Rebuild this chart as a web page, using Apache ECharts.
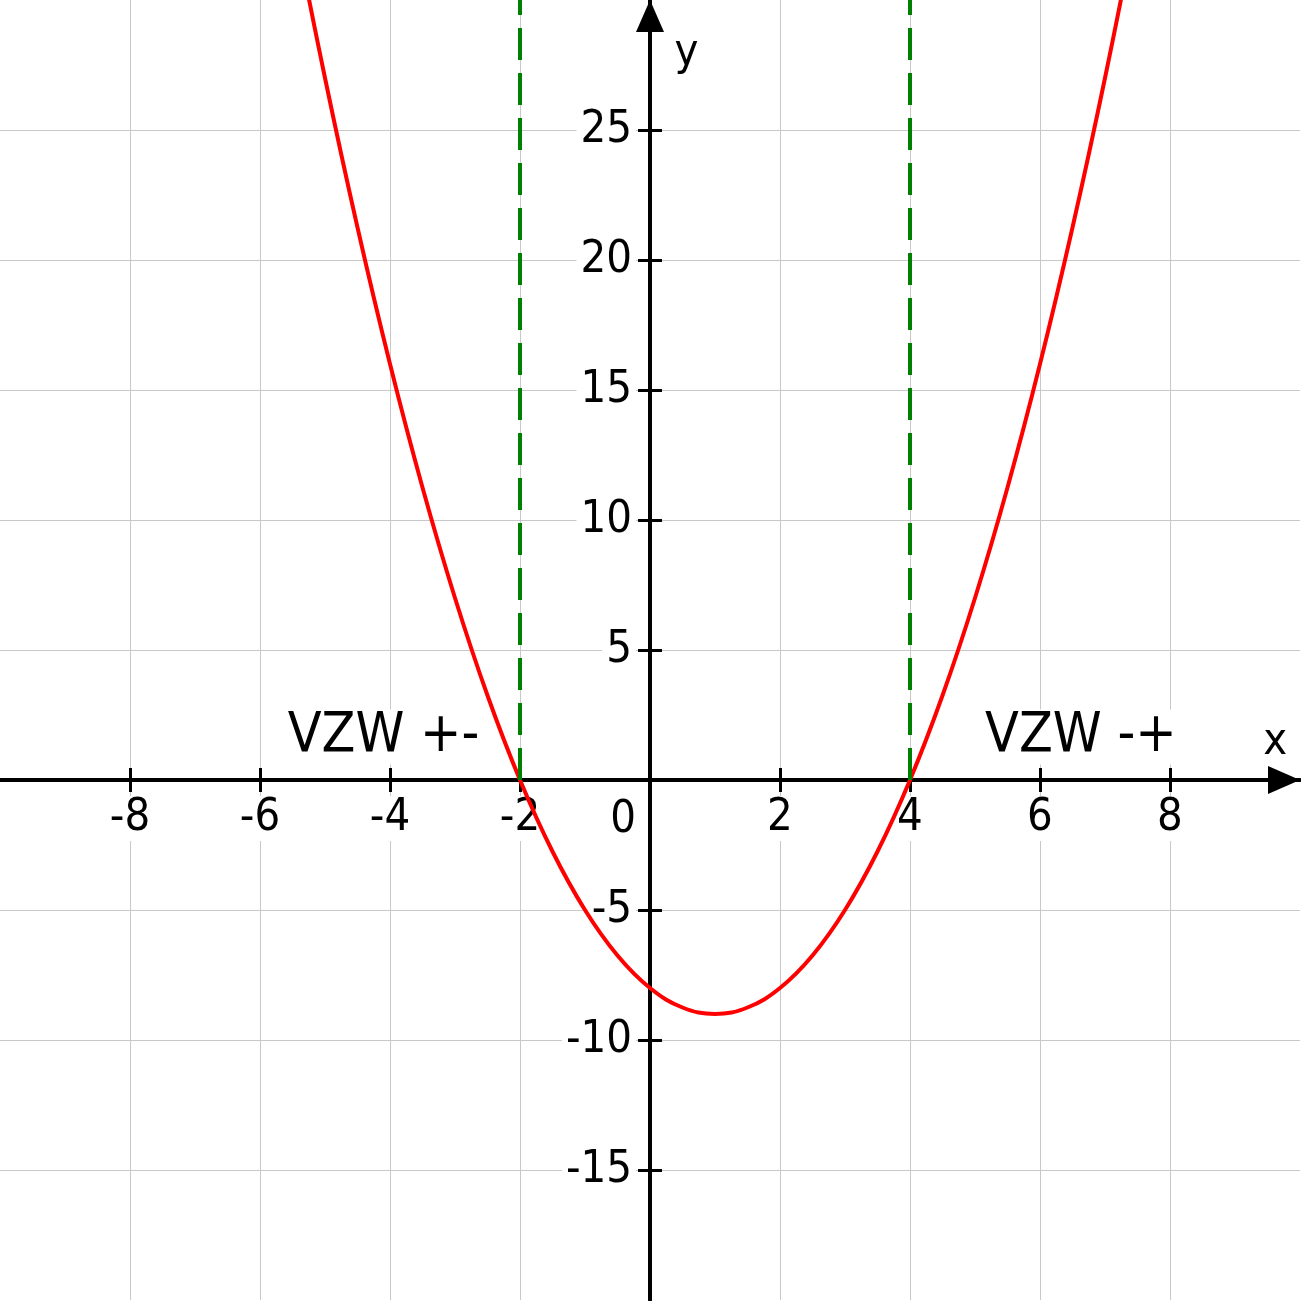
<!DOCTYPE html>
<html>
<head>
<meta charset="utf-8">
<script src="https://cdn.jsdelivr.net/npm/echarts@6/dist/echarts.min.js"></script>
<style>
html,body{margin:0;padding:0;background:#fff;}
#chart{width:1301px;height:1301px;}
</style>
</head>
<body>
<div id="chart"></div>
<script>
// Parabola points
const curveX = [-5.5,-5,-4.5,-4,-3.5,-3,-2.5,-2,-1.5,-1,-0.5,0,0.5,1,1.5,2,2.5,3,3.5,4,4.5,5,5.5,6,6.5,7,7.5];
const curveY = [33.25,27,21.25,16,11.25,7,3.25,0,-2.75,-5,-6.75,-8,-8.75,-9,-8.75,-8,-6.75,-5,-2.75,0,3.25,7,11.25,16,21.25,27,33.25];
// Vertical dashed lines (sign-change positions), drawn from y=0 up to the top
const vLines = [-2, 4];
const vLineFrom = 0, vLineTo = 30;
// Tick labels
const xTicks = [-8,-6,-4,-2,2,4,6,8];
const yTicks = [-15,-10,-5,5,10,15,20,25];
// Annotation texts
const notes = [
  {text:'VZW +-', x:-4.1, y:1.65},
  {text:'VZW -+', x:6.63, y:1.65}
];
const axisNames = [
  {text:'x', x:9.62, y:1.45},
  {text:'y', x:0.56, y:27.95},
  {text:'0', x:-0.415, y:-1.54}
];

const FONT = 'DejaVu Sans Condensed';
const chart = echarts.init(document.getElementById('chart'), null, {renderer:'canvas'});
const labelCommon = {fontSize:45, fontFamily:FONT, color:'#000', backgroundColor:'#fff', padding:[0,4]};
const X_OFF = -520, Y_OFF = -650;
const arrowLine = {show:true, onZero:false, lineStyle:{color:'#000', width:4}, symbol:['none','triangle'], symbolSize:[28,32], symbolOffset:[0,-16]};
const option = {
  animation:false,
  backgroundColor:'#fff',
  grid:{left:0, top:0, width:1300, height:1300, containLabel:false, outerBoundsMode:'none'},
  xAxis:[{
    type:'value', min:-10, max:10, interval:2, position:'bottom', offset:X_OFF,
    axisLine:arrowLine,
    axisTick:{show:true, length:12, inside:false, customValues:xTicks, lineStyle:{color:'#000', width:3}},
    axisLabel:Object.assign({customValues:xTicks, margin:16}, labelCommon),
    splitLine:{show:true, lineStyle:{color:'#c8c8c8', width:1}}
  },{
    type:'value', min:-10, max:10, interval:2, position:'bottom', offset:X_OFF,
    axisLine:{show:false, onZero:false},
    axisTick:{show:true, length:12, inside:true, customValues:xTicks, lineStyle:{color:'#000', width:3}},
    axisLabel:{show:false},
    splitLine:{show:false}
  }],
  yAxis:[{
    type:'value', min:-20, max:30, interval:5, position:'left', offset:Y_OFF,
    axisLine:arrowLine,
    axisTick:{show:true, length:12, inside:false, customValues:yTicks, lineStyle:{color:'#000', width:3}},
    axisLabel:Object.assign({customValues:yTicks, margin:14}, labelCommon),
    splitLine:{show:true, lineStyle:{color:'#c8c8c8', width:1}}
  },{
    type:'value', min:-20, max:30, interval:5, position:'left', offset:Y_OFF,
    axisLine:{show:false, onZero:false},
    axisTick:{show:true, length:12, inside:true, customValues:yTicks, lineStyle:{color:'#000', width:3}},
    axisLabel:{show:false},
    splitLine:{show:false}
  }],
  series:[{
    type:'line',
    data:curveX.map((x,i)=>[x, curveY[i]]),
    smooth:0.4,
    symbol:'none',
    clip:true,
    lineStyle:{color:'#ff0000', width:4},
    z:4,
    markLine:{
      silent:true,
      symbol:['none','none'],
      label:{show:false},
      lineStyle:{color:'#008000', width:4, type:[32,13]},
      data:vLines.map(v=>[{coord:[v, vLineFrom]},{coord:[v, vLineTo]}])
    }
  },{
    type:'scatter',
    symbolSize:0,
    z:5,
    itemStyle:{opacity:1, color:'#000'},
    data:notes.map(n=>({value:[n.x,n.y], label:{formatter:n.text, color:'#000'}})),
    label:{show:true, position:'inside', fontSize:55, fontFamily:FONT, color:'#000', opacity:1, backgroundColor:'#fff', padding:[0,4]}
  },{
    type:'scatter',
    symbolSize:0,
    z:5,
    itemStyle:{opacity:1, color:'#000'},
    data:axisNames.map(n=>({value:[n.x,n.y], label:{formatter:n.text, color:'#000'}})),
    label:{show:true, position:'inside', fontSize:45, fontFamily:FONT, color:'#000', opacity:1}
  }]
};
chart.setOption(option);
</script>
</body>
</html>
